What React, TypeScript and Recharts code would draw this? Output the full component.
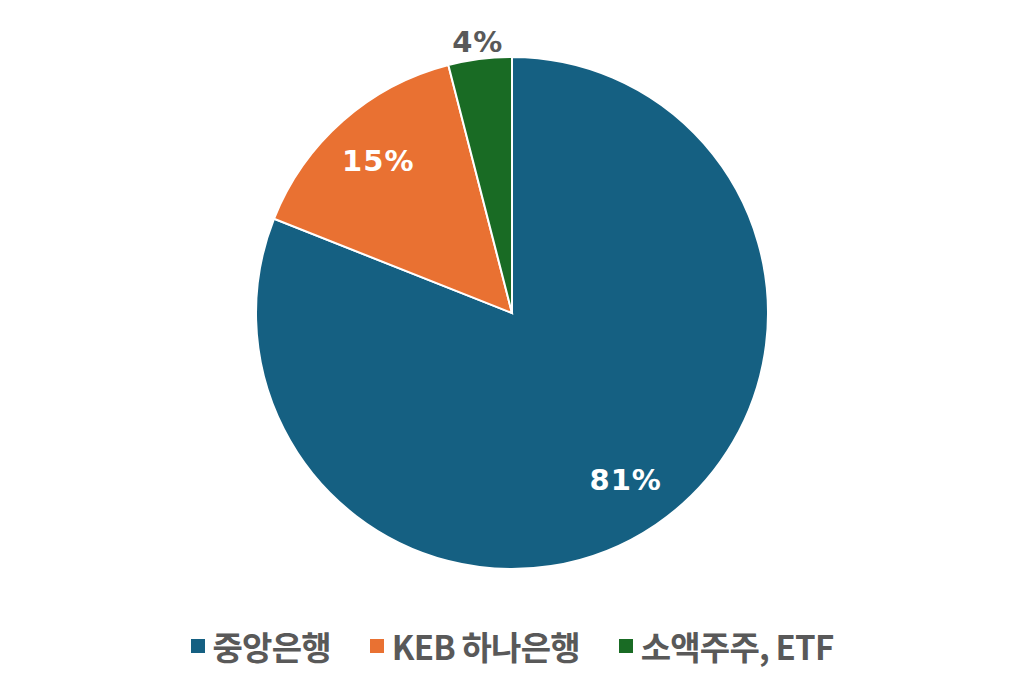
import React from "react";
import { PieChart, Pie, Cell, Legend } from "recharts";

const categories = ["중앙은행", "KEB 하나은행", "소액주주, ETF"];
const values = [81, 15, 4];
const colors = ["#156082", "#E97132", "#196B24"];

const data = categories.map((name, i) => ({ name, value: values[i] }));

const RAD = Math.PI / 180;

const renderLabel = (props: any) => {
  const { cx, cy, midAngle, outerRadius, index, value } = props;
  const inside = index < 2;
  const r = inside ? outerRadius * 0.79 : outerRadius + 17;
  const x = cx + r * Math.cos(-midAngle * RAD);
  const y = cy + r * Math.sin(-midAngle * RAD);
  return (
    <text
      x={x}
      y={y}
      fill={inside ? "#FFFFFF" : "#595959"}
      textAnchor="middle"
      dominantBaseline="central"
      fontFamily="'DejaVu Sans', sans-serif"
      fontWeight={700}
      fontSize={29}
      letterSpacing={1}
    >
      {`${value}%`}
    </text>
  );
};

const renderLegend = () => (
  <div
    style={{
      display: "flex",
      justifyContent: "center",
      alignItems: "center",
      fontFamily: "'Noto Sans CJK KR', sans-serif",
      fontWeight: 700,
      fontSize: 33,
      color: "#595959",
      letterSpacing: -0.8,
    }}
  >
    {categories.map((c, i) => (
      <div
        key={c}
        style={{ display: "flex", alignItems: "center", marginLeft: i === 0 ? 0 : 39 }}
      >
        <span
          style={{
            display: "inline-block",
            width: 14,
            height: 14,
            background: colors[i],
            marginRight: 8,
          }}
        />
        <span>{c}</span>
      </div>
    ))}
  </div>
);

export default function App() {
  return (
    <div style={{ position: "absolute", left: 0, top: 0, width: 1024, height: 682, background: "#fff" }}>
      <PieChart width={1024} height={682} margin={{ top: 0, right: 0, bottom: 0, left: 0 }}>
        <Pie
          data={data}
          dataKey="value"
          nameKey="name"
          cx={512}
          cy={313}
          outerRadius={256}
          startAngle={90}
          endAngle={-270}
          stroke="#FFFFFF"
          strokeWidth={2}
          label={renderLabel}
          labelLine={false}
          isAnimationActive={false}
        >
          {data.map((d, i) => (
            <Cell key={d.name} fill={colors[i]} />
          ))}
        </Pie>
        <Legend
          content={renderLegend}
          wrapperStyle={{ top: 622, left: 0, width: 1024 }}
        />
      </PieChart>
    </div>
  );
}
